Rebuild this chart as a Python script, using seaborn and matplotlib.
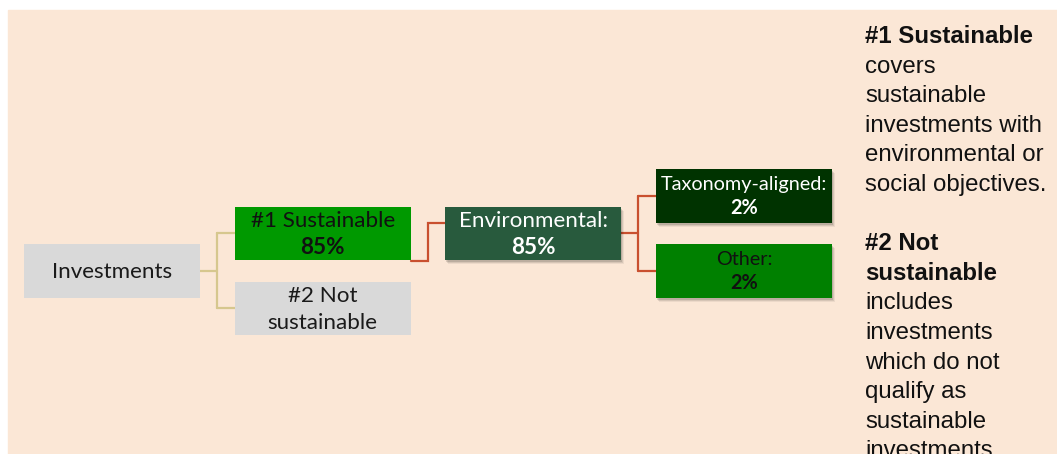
import matplotlib
matplotlib.use("Agg")
import matplotlib.pyplot as plt
import seaborn as sns
from matplotlib.patches import Rectangle

# 1. Data: the tree of investment shares

node_labels = ["Investments", "#1 Sustainable", "#2 Not\nsustainable",
               "Environmental:", "Taxonomy-aligned:", "Other:"]
node_shares = [None, 85, None, 85, 2, 2]   # percent, None = no value shown
node_parent = [None, 0, 0, 1, 3, 3]

note_lines = ["#1 Sustainable", "covers", "sustainable", "investments with",
              "environmental or", "social objectives.", "",
              "#2 Not", "sustainable", "includes", "investments",
              "which do not", "qualify as", "sustainable", "investments."]
note_bold = [True, False, False, False, False, False, False,
             True, True, False, False, False, False, False, False]

# 2. Styles

box_fill = ["#D9D9D9", "#009900", "#D9D9D9", "#285A3D", "#003300", "#008000"]
box_text = ["#1a1a1a", "#111111", "#1a1a1a", "white", "white", "#111111"]
box_font = [16.1, 16.1, 16.1, 16.1, 14.3, 14.3]   # pt at 100 dpi
box_shadow = [False, False, False, True, True, True]
bg_color = "#FBE7D6"
tan = "#D6C78E"
red = "#C9502F"

# layout in pixels (figure is 1057 x 454 at 100 dpi)
W, H = 1057, 454
col_x0, col_step = 24, 210.7
box_w, box_h = 176, 53.5
root_y, row_step = 270.75, 37.5

sns.set_theme(style="white")
plt.rcParams['font.family'] = ['Lato', 'DejaVu Sans']

fig = plt.figure(figsize=(W / 100, H / 100), dpi=100)
ax = fig.add_axes([0, 0, 1, 1])
ax.set_xlim(0, W)
ax.set_ylim(H, 0)
ax.axis("off")

# background panel
ax.add_patch(Rectangle((8, 10), W - 8, H - 10, color=bg_color, zorder=0))

# 3. Tree layout: children spread symmetrically around the parent

depth = [0] * len(node_labels)
cy = [root_y] * len(node_labels)
children = {i: [] for i in range(len(node_labels))}
for i, p in enumerate(node_parent):
    if p is not None:
        children[p].append(i)
for p in range(len(node_labels)):
    kids = children[p]
    n = len(kids)
    for k, c in enumerate(kids):
        depth[c] = depth[p] + 1
        cy[c] = cy[p] + (k - (n - 1) / 2) * 2 * row_step

left = [col_x0 + d * col_step for d in depth]

# 4. Connectors

for p, kids in children.items():
    if not kids:
        continue
    color = tan if node_parent[p] is None else red
    px = left[p] + box_w
    mx = px + 17
    if len(kids) == 1:
        c = kids[0]
        y0 = cy[p] + box_h / 2 + 1
        y1 = cy[c] - 10
        ax.plot([px, mx, mx, left[c]], [y0, y0, y1, y1], color=color, lw=1.6,
                solid_joinstyle="miter", zorder=1)
    else:
        ys = [cy[c] for c in kids]
        ax.plot([px, mx], [cy[p], cy[p]], color=color, lw=1.6, zorder=1)
        ax.plot([mx, mx], [min(ys), max(ys)], color=color, lw=1.6, zorder=1)
        for c in kids:
            ax.plot([mx, left[c]], [cy[c], cy[c]], color=color, lw=1.6, zorder=1)

# 5. Boxes and their text

for i, label in enumerate(node_labels):
    x0, y0 = left[i], cy[i] - box_h / 2
    if box_shadow[i]:
        for off, a in [(4, 0.06), (3, 0.09), (2, 0.12)]:
            ax.add_patch(Rectangle((x0 + off - 1, y0 + off), box_w, box_h,
                                   color="black", alpha=a, lw=0, zorder=2))
    ax.add_patch(Rectangle((x0, y0), box_w, box_h, color=box_fill[i], lw=0, zorder=3))

    lines = label.split("\n")
    weights = ["normal"] * len(lines)
    if node_shares[i] is not None:
        lines.append(f"{node_shares[i]}%")
        weights.append("bold")
    px_size = box_font[i] * 100 / 72
    pitch = 1.2 * px_size
    base = cy[i] + 0.33 * px_size - pitch * (len(lines) - 1) / 2
    for j, (txt, wt) in enumerate(zip(lines, weights)):
        ax.text(x0 + box_w / 2, base + j * pitch, txt, ha="center", va="baseline",
                fontsize=box_font[i], fontweight=wt, color=box_text[i], zorder=4)

# 6. Side notes

for i, (txt, b) in enumerate(zip(note_lines, note_bold)):
    ax.text(865, 43 + 29.6 * i, txt, ha="left", va="baseline",
            fontsize=17.3, fontweight="bold" if b else "normal",
            family=["Liberation Sans", "DejaVu Sans"], color="#111111")

plt.savefig("out.png", dpi=100)
